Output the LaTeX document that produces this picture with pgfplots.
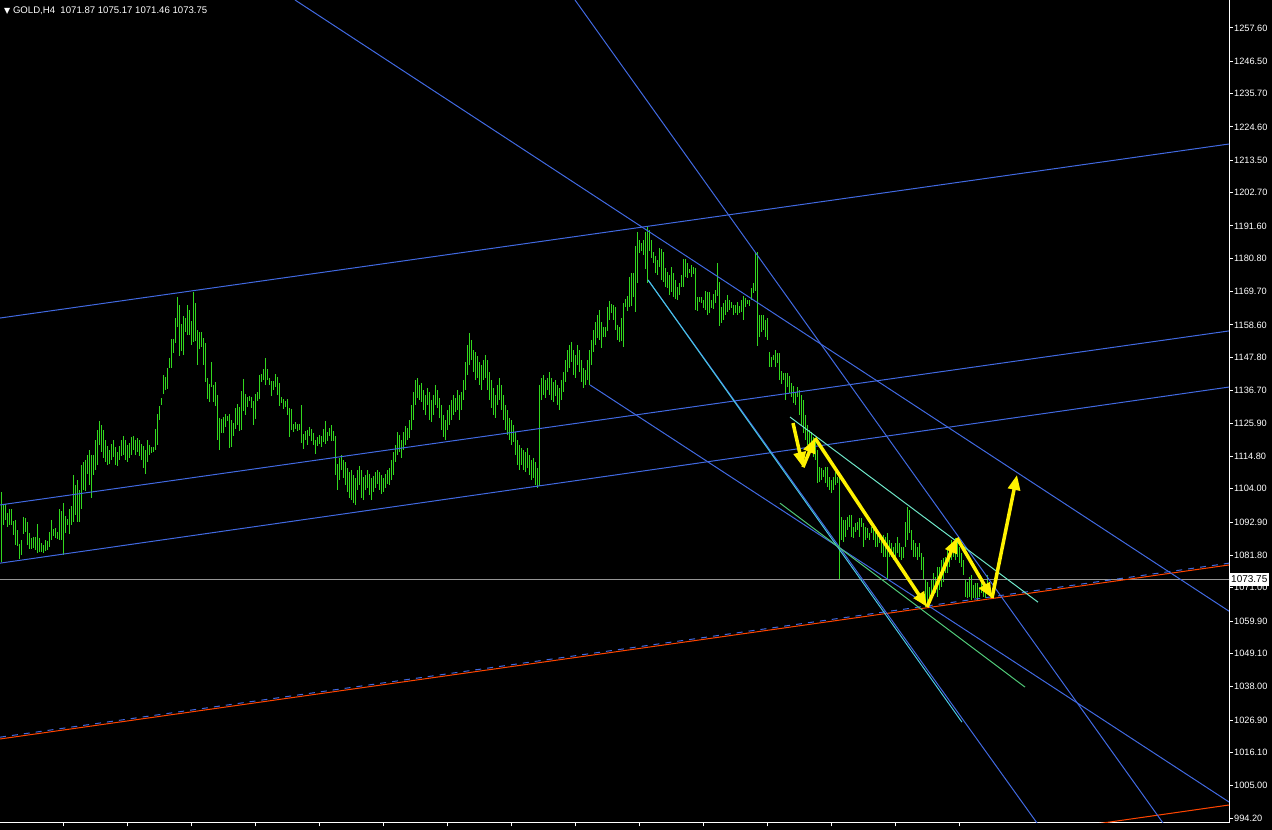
\documentclass[border=0pt]{standalone}
\usepackage{fontspec}
\setmainfont{Liberation Sans}
\newfontfamily\dv{DejaVu Sans}
\usepackage{pgfplots}
\usepackage{pgfplotstable}
\pgfplotsset{compat=1.18}
\usetikzlibrary{arrows.meta}

\definecolor{mtgreen}{RGB}{50,215,30}
\definecolor{mtblue}{RGB}{65,105,225}
\definecolor{mtred}{RGB}{255,69,0}
\definecolor{mtcyan}{RGB}{72,200,225}
\definecolor{mtaqua}{RGB}{110,230,200}
\definecolor{mtlgreen}{RGB}{80,200,120}
\definecolor{mtgray}{RGB}{150,150,150}

% H4 bars: x position, high, low
\pgfplotstableread[row sep=\\]{
x h l\\
1 1102.9 1079.6\\ 3 1098.6 1091.9\\ 5 1098.9 1093.6\\ 7 1095.9 1091.2\\ 9 1097.2 1091.9\\
11 1097.2 1091.9\\ 13 1093.2 1088.6\\ 15 1093.6 1085.2\\ 17 1090.2 1084.9\\ 19 1085.6 1080.6\\
21 1086.9 1081.9\\ 23 1094.6 1088.9\\ 25 1094.2 1089.6\\ 27 1092.9 1085.2\\ 29 1089.2 1083.9\\
31 1087.6 1083.9\\ 33 1087.9 1084.2\\ 35 1087.9 1083.6\\ 37 1092.2 1082.6\\ 39 1087.6 1082.9\\
41 1085.9 1082.9\\ 43 1085.2 1082.6\\ 45 1086.9 1083.2\\ 47 1086.6 1083.6\\ 49 1089.6 1084.6\\
51 1093.6 1086.9\\ 53 1090.6 1088.2\\ 55 1090.9 1087.6\\ 57 1089.6 1087.2\\ 59 1097.2 1086.9\\
61 1096.6 1086.9\\ 63 1099.2 1081.9\\ 65 1094.9 1089.2\\ 67 1093.9 1091.9\\ 69 1097.2 1088.9\\
71 1098.2 1091.9\\ 73 1108.6 1092.9\\ 75 1105.2 1095.2\\ 77 1106.9 1092.9\\ 79 1103.6 1092.9\\
81 1111.9 1097.2\\ 83 1112.9 1103.6\\ 85 1113.6 1103.2\\ 87 1115.2 1108.9\\ 89 1116.9 1105.2\\
91 1115.2 1100.9\\ 93 1115.2 1108.6\\ 95 1120.2 1110.2\\ 97 1123.6 1111.9\\ 99 1126.6 1118.6\\
101 1125.2 1116.2\\ 103 1123.6 1114.2\\ 105 1120.2 1112.9\\ 107 1118.2 1111.9\\ 109 1116.9 1112.2\\
111 1118.9 1113.6\\ 113 1120.2 1114.6\\ 115 1117.9 1111.9\\ 117 1116.2 1111.6\\ 119 1118.2 1113.6\\
121 1120.2 1114.9\\ 123 1121.6 1115.2\\ 125 1120.2 1113.6\\ 127 1118.6 1112.9\\ 129 1119.2 1114.2\\
131 1121.2 1115.2\\ 133 1121.6 1116.9\\ 135 1120.2 1115.2\\ 137 1120.9 1116.2\\ 139 1120.2 1114.9\\
141 1118.9 1113.6\\ 143 1118.2 1110.9\\ 145 1116.9 1108.9\\ 147 1120.2 1112.9\\ 149 1118.6 1115.2\\
151 1117.9 1115.9\\ 153 1117.9 1116.2\\ 155 1123.9 1116.9\\ 157 1128.9 1118.6\\ 159 1131.6 1126.9\\
161 1134.2 1131.9\\ 163 1141.9 1135.6\\ 165 1141.2 1136.9\\ 167 1144.2 1137.2\\ 169 1147.6 1144.2\\
171 1153.9 1144.2\\ 173 1153.9 1149.2\\ 175 1160.9 1152.6\\ 177 1167.9 1157.9\\ 179 1165.2 1148.2\\
181 1158.9 1149.9\\ 183 1161.6 1148.6\\ 185 1160.9 1156.2\\ 187 1165.2 1155.2\\ 189 1163.6 1155.2\\
191 1159.9 1151.9\\ 193 1169.6 1152.9\\ 195 1165.9 1153.2\\ 197 1156.9 1145.2\\ 199 1156.2 1150.6\\
201 1156.2 1151.2\\ 203 1154.2 1145.2\\ 205 1152.6 1139.6\\ 207 1140.9 1133.9\\ 209 1138.9 1132.9\\
211 1146.2 1137.9\\ 213 1138.6 1132.9\\ 215 1139.6 1131.6\\ 217 1135.2 1120.2\\ 219 1127.6 1116.9\\
221 1127.2 1122.6\\ 223 1127.9 1122.6\\ 225 1128.9 1124.6\\ 227 1128.2 1126.6\\ 229 1128.9 1117.6\\
231 1126.9 1117.9\\ 233 1125.9 1121.6\\ 235 1130.9 1123.9\\ 237 1132.2 1125.2\\ 239 1131.2 1123.2\\
241 1136.6 1123.6\\ 243 1140.6 1129.9\\ 245 1135.6 1128.6\\ 247 1134.6 1131.2\\ 249 1134.9 1133.2\\
251 1134.6 1130.9\\ 253 1133.2 1125.2\\ 255 1135.6 1127.2\\ 257 1136.2 1133.2\\ 259 1141.9 1133.9\\
261 1142.2 1139.6\\ 263 1143.9 1140.2\\ 265 1147.6 1138.6\\ 267 1143.9 1140.2\\ 269 1140.9 1138.6\\
271 1139.9 1134.9\\ 273 1139.9 1136.9\\ 275 1142.2 1137.9\\ 277 1141.2 1135.2\\ 279 1139.2 1131.6\\
281 1134.6 1132.6\\ 283 1133.9 1130.6\\ 285 1133.2 1131.2\\ 287 1133.9 1128.6\\ 289 1130.9 1121.2\\
291 1130.6 1123.6\\ 293 1125.6 1122.9\\ 295 1126.2 1123.9\\ 297 1125.6 1123.2\\ 299 1125.6 1123.6\\
301 1131.9 1119.2\\ 303 1122.2 1117.2\\ 305 1123.2 1120.2\\ 307 1123.6 1118.6\\ 309 1124.6 1121.6\\
311 1123.9 1119.9\\ 313 1122.6 1118.6\\ 315 1120.2 1115.6\\ 317 1121.2 1118.2\\ 319 1121.9 1118.9\\
321 1121.6 1117.9\\ 323 1123.9 1119.6\\ 325 1126.6 1118.9\\ 327 1122.9 1119.9\\ 329 1124.2 1121.6\\
331 1125.2 1119.9\\ 333 1123.2 1119.9\\ 335 1121.6 1108.6\\ 337 1112.2 1103.6\\ 339 1114.2 1106.9\\
341 1115.2 1110.2\\ 343 1113.6 1107.6\\ 345 1112.9 1105.2\\ 347 1110.9 1102.9\\ 349 1109.6 1100.9\\
351 1110.2 1100.2\\ 353 1108.6 1099.2\\ 355 1107.6 1098.6\\ 357 1110.2 1103.6\\ 359 1111.6 1105.2\\
361 1110.2 1100.9\\ 363 1107.9 1100.2\\ 365 1108.6 1103.6\\ 367 1110.2 1104.2\\ 369 1108.9 1101.9\\
371 1107.6 1100.2\\ 373 1108.2 1102.9\\ 375 1109.6 1104.2\\ 377 1110.2 1105.6\\ 379 1109.6 1103.6\\
381 1108.6 1102.2\\ 383 1107.6 1102.9\\ 385 1108.9 1104.2\\ 387 1110.2 1105.6\\ 389 1110.9 1105.2\\
391 1113.6 1106.9\\ 393 1116.2 1108.6\\ 395 1118.6 1112.9\\ 397 1122.9 1115.2\\ 399 1121.9 1116.2\\
401 1120.2 1114.2\\ 403 1122.9 1116.9\\ 405 1124.9 1118.6\\ 407 1124.2 1120.2\\ 409 1126.9 1120.9\\
411 1131.9 1123.6\\ 413 1136.2 1126.9\\ 415 1140.2 1131.9\\ 417 1140.9 1134.2\\ 419 1138.6 1133.6\\
421 1139.2 1132.9\\ 423 1136.9 1130.2\\ 425 1135.2 1128.6\\ 427 1137.6 1131.9\\ 429 1136.2 1126.9\\
431 1133.6 1126.2\\ 433 1135.2 1128.6\\ 435 1138.6 1131.9\\ 437 1136.9 1130.9\\ 439 1134.2 1127.6\\
441 1131.9 1123.6\\ 443 1128.6 1121.2\\ 445 1126.9 1120.2\\ 447 1130.2 1123.6\\ 449 1131.9 1125.2\\
451 1133.6 1126.9\\ 453 1135.2 1128.6\\ 455 1134.2 1129.6\\ 457 1136.9 1130.2\\ 459 1135.2 1126.9\\
461 1136.2 1130.2\\ 463 1140.2 1133.6\\ 465 1146.2 1136.9\\ 467 1151.9 1141.9\\ 469 1155.9 1145.2\\
471 1153.6 1146.9\\ 473 1150.2 1142.9\\ 475 1149.6 1140.2\\ 477 1148.2 1140.9\\ 479 1146.2 1138.6\\
481 1145.2 1136.9\\ 483 1146.9 1140.2\\ 485 1148.6 1140.9\\ 487 1146.9 1136.9\\ 489 1142.9 1133.6\\
491 1140.2 1130.9\\ 493 1137.6 1128.6\\ 495 1135.2 1127.6\\ 497 1138.6 1131.9\\ 499 1140.9 1133.6\\
501 1138.6 1130.2\\ 503 1135.2 1126.9\\ 505 1131.9 1123.6\\ 507 1130.2 1121.9\\ 509 1127.6 1120.2\\
511 1126.9 1118.6\\ 513 1125.2 1119.6\\ 515 1122.9 1115.2\\ 517 1120.2 1111.9\\ 519 1118.6 1110.2\\
521 1117.6 1111.9\\ 523 1116.9 1110.2\\ 525 1116.2 1109.6\\ 527 1117.6 1110.9\\ 529 1115.2 1108.6\\
531 1113.6 1106.9\\ 533 1114.2 1107.6\\ 535 1112.9 1105.2\\ 537 1110.9 1104.2\\ 539 1138.6 1104.9\\
541 1140.9 1133.6\\ 543 1141.9 1135.2\\ 545 1140.2 1134.2\\ 547 1140.9 1136.9\\ 549 1142.9 1135.2\\
551 1140.9 1133.6\\ 553 1139.6 1132.9\\ 555 1140.2 1134.9\\ 557 1138.6 1131.9\\ 559 1137.6 1130.2\\
561 1140.2 1133.6\\ 563 1142.9 1136.2\\ 565 1146.9 1139.6\\ 567 1150.2 1142.9\\ 569 1151.9 1144.2\\
571 1152.9 1146.2\\ 573 1150.2 1141.9\\ 575 1148.6 1140.9\\ 577 1151.9 1145.2\\ 579 1150.2 1142.9\\
581 1146.9 1139.6\\ 583 1144.2 1137.6\\ 585 1143.6 1138.6\\ 587 1146.9 1140.2\\ 589 1150.2 1138.6\\
591 1153.6 1145.2\\ 593 1156.9 1149.6\\ 595 1159.6 1151.9\\ 597 1161.9 1154.2\\ 599 1163.6 1153.6\\
601 1159.6 1150.9\\ 603 1157.9 1154.6\\ 605 1157.9 1154.6\\ 607 1164.6 1156.6\\ 609 1166.6 1160.2\\
611 1165.6 1162.6\\ 613 1165.2 1160.2\\ 615 1164.6 1156.9\\ 617 1158.6 1153.6\\ 619 1157.9 1152.9\\
621 1160.9 1153.2\\ 623 1165.9 1151.2\\ 625 1167.2 1164.6\\ 627 1168.2 1163.2\\ 629 1174.6 1164.6\\
631 1175.9 1164.9\\ 633 1175.9 1167.9\\ 635 1184.9 1162.9\\ 637 1189.6 1172.6\\ 639 1186.9 1182.6\\
641 1185.9 1183.2\\ 643 1186.9 1181.9\\ 645 1189.6 1177.2\\ 647 1191.2 1172.6\\ 649 1190.2 1183.2\\
651 1186.9 1180.9\\ 653 1182.9 1179.2\\ 655 1181.6 1175.9\\ 657 1180.2 1175.2\\ 659 1184.2 1177.9\\
661 1183.9 1173.6\\ 663 1182.9 1172.9\\ 665 1177.6 1171.2\\ 667 1176.2 1170.9\\ 669 1175.2 1168.6\\
671 1177.9 1169.6\\ 673 1175.9 1167.9\\ 675 1173.6 1167.2\\ 677 1171.2 1166.9\\ 679 1172.6 1168.6\\
681 1175.2 1171.2\\ 683 1180.6 1171.2\\ 685 1180.6 1174.6\\ 687 1179.2 1174.2\\ 689 1177.2 1175.9\\
691 1178.6 1174.6\\ 693 1177.9 1175.6\\ 695 1177.6 1163.6\\ 697 1167.9 1163.2\\ 699 1167.9 1166.2\\
701 1167.9 1165.9\\ 703 1166.9 1164.2\\ 705 1169.9 1163.6\\ 707 1169.6 1161.9\\ 709 1169.6 1162.6\\
711 1166.9 1164.2\\ 713 1168.9 1163.9\\ 715 1170.2 1165.9\\ 717 1179.2 1168.2\\ 719 1172.9 1158.2\\
721 1164.6 1159.2\\ 723 1165.9 1160.2\\ 725 1166.9 1161.9\\ 727 1168.6 1162.9\\ 729 1166.9 1163.6\\
731 1166.2 1164.2\\ 733 1165.2 1161.9\\ 735 1165.2 1162.6\\ 737 1166.2 1161.9\\ 739 1164.9 1162.6\\
741 1166.9 1162.9\\ 743 1168.2 1160.2\\ 745 1167.6 1164.6\\ 747 1166.9 1165.6\\ 749 1166.9 1164.9\\
751 1170.9 1166.9\\ 753 1172.6 1169.2\\ 755 1182.6 1169.9\\ 757 1182.9 1151.6\\ 759 1161.9 1154.6\\
761 1161.9 1156.2\\ 763 1161.9 1156.9\\ 765 1160.2 1154.6\\ 767 1160.9 1153.6\\ 769 1149.6 1144.6\\
771 1147.9 1144.6\\ 773 1148.6 1146.9\\ 775 1150.2 1144.6\\ 777 1149.2 1145.9\\ 779 1149.2 1140.2\\
781 1143.2 1138.9\\ 783 1142.6 1140.2\\ 785 1142.6 1133.6\\ 787 1142.6 1137.9\\ 789 1141.6 1135.9\\
791 1139.2 1134.6\\ 793 1138.2 1132.6\\ 795 1135.9 1131.9\\ 797 1137.9 1134.6\\ 799 1136.9 1128.6\\
801 1135.2 1125.2\\ 803 1133.6 1122.6\\ 805 1128.6 1120.2\\ 807 1125.2 1118.6\\ 809 1123.6 1116.9\\
811 1122.9 1116.9\\ 813 1121.2 1114.6\\ 815 1120.2 1113.6\\ 817 1116.9 1105.9\\ 819 1111.2 1106.2\\
821 1110.9 1106.9\\ 823 1110.2 1107.9\\ 825 1111.2 1105.9\\ 827 1111.2 1104.6\\ 829 1107.9 1103.6\\
831 1106.9 1102.6\\ 833 1107.9 1103.6\\ 835 1109.6 1105.2\\ 837 1107.9 1105.9\\ 839 1107.9 1073.6\\
841 1094.6 1086.9\\ 843 1093.6 1086.2\\ 845 1093.6 1087.9\\ 847 1094.6 1090.2\\ 849 1095.2 1091.2\\
851 1095.2 1087.9\\ 853 1091.2 1087.6\\ 855 1092.6 1089.6\\ 857 1092.9 1090.2\\ 859 1094.2 1087.9\\
861 1094.2 1091.2\\ 863 1092.6 1084.6\\ 865 1091.2 1086.9\\ 867 1090.9 1087.6\\ 869 1089.2 1086.9\\
871 1091.2 1089.2\\ 873 1091.9 1086.9\\ 875 1090.2 1084.6\\ 877 1088.6 1084.6\\ 879 1089.2 1085.9\\
881 1087.9 1082.6\\ 883 1088.6 1081.2\\ 885 1087.9 1081.2\\ 887 1089.2 1073.6\\ 889 1086.9 1081.2\\
891 1085.9 1081.2\\ 893 1084.6 1080.2\\ 895 1085.9 1080.2\\ 897 1087.9 1082.6\\ 899 1085.9 1081.2\\
901 1084.6 1080.2\\ 903 1084.6 1080.9\\ 905 1092.9 1084.6\\ 907 1097.9 1086.9\\ 909 1096.9 1089.2\\
911 1090.2 1083.6\\ 913 1086.9 1081.2\\ 915 1085.9 1081.2\\ 917 1084.6 1080.2\\ 919 1085.9 1081.2\\
921 1082.6 1076.9\\ 923 1081.2 1073.6\\ 925 1073.6 1064.6\\ 927 1072.9 1064.2\\ 929 1071.2 1066.9\\
931 1073.6 1066.9\\ 933 1075.9 1069.2\\ 935 1074.6 1069.2\\ 937 1077.9 1067.9\\ 939 1077.9 1070.2\\
941 1080.2 1071.2\\ 943 1080.9 1072.9\\ 945 1081.2 1075.9\\ 947 1084.6 1075.9\\ 949 1085.2 1077.9\\
951 1086.9 1080.2\\ 953 1085.9 1081.2\\ 955 1087.6 1080.2\\ 957 1087.6 1081.2\\ 959 1084.6 1079.2\\
961 1082.6 1077.9\\ 963 1080.2 1075.2\\ 965 1073.6 1067.9\\ 967 1072.9 1067.6\\ 969 1074.6 1067.9\\
971 1075.2 1066.9\\ 973 1071.9 1067.6\\ 975 1072.6 1067.6\\ 977 1072.6 1066.9\\ 979 1071.2 1067.9\\
981 1072.6 1069.2\\ 983 1071.2 1067.9\\ 985 1070.2 1067.6\\ 987 1075.2 1071.5\\
}\bars

\begin{document}
\begin{tikzpicture}[x=1pt,y=1pt]
\fill[black] (0,0) rectangle (1272,830);
\useasboundingbox (0,0) rectangle (1272,830);
\begin{axis}[
  at={(0pt,7pt)}, anchor=south west,
  width=1229pt, height=823pt, scale only axis,
  xmin=0, xmax=1229, ymin=992.6, ymax=1266.9,
  clip mode=individual,
  axis x line*=bottom, axis y line*=right,
  axis line style={white, line width=1pt},
  tick align=outside,
  major tick length=3.5pt,
  tick style={white, line width=1pt},
  xtick={63,127,...,959}, xticklabels={},
  ytick={994.2,1005,1016.1,1026.9,1038,1049.1,1059.9,1071,1081.8,1092.9,1104,1114.8,1125.9,1136.7,1147.8,1158.6,1169.7,1180.8,1191.6,1202.7,1213.5,1224.6,1235.7,1246.5,1257.6},
  yticklabels={994.20,1005.00,1016.10,1026.90,1038.00,1049.10,1059.90,1071.00,1081.80,1092.90,1104.00,1114.80,1125.90,1136.70,1147.80,1158.60,1169.70,1180.80,1191.60,1202.70,1213.50,1224.60,1235.70,1246.50,1257.60},
  yticklabel style={white, font=\fontsize{9.2}{10}\selectfont, inner sep=1.5pt},
]
% price bars (high-low)
\addplot[draw=none, mark=none, forget plot,
  error bars/.cd, y dir=minus, y explicit, error mark=none,
  error bar style={draw=mtgreen, line width=1pt}]
  table[x=x, y=h, y error minus expr=\thisrow{h}-\thisrow{l}] {\bars};

% current price line
\addplot[mtgray, line width=1pt] coordinates {(0,1073.75)(1229,1073.75)};

% rising channel
\addplot[mtblue, line width=1pt] coordinates {(0,1160.9)(1229,1218.9)};
\addplot[mtblue, line width=1pt] coordinates {(0,1098.6)(1229,1156.6)};
\addplot[mtblue, line width=1pt] coordinates {(0,1079.2)(1229,1137.9)};
\addplot[mtred, line width=1pt] coordinates {(0,1020.6)(1229,1078.6)};
\addplot[mtblue, line width=1pt, dash pattern=on 6pt off 6pt] coordinates {(0,1021.2)(1229,1079.2)};
\addplot[mtred, line width=1pt] coordinates {(1000,987.7)(1229,998.6)};

% falling lines
\addplot[mtblue, line width=1pt] coordinates {(295,1266.9)(1229,1063.2)};
\addplot[mtblue, line width=1pt] coordinates {(575,1266.9)(1163,992.6)};
\addplot[mtblue, line width=1pt] coordinates {(590,1138.6)(1229,999.6)};
\addplot[mtblue, line width=1pt] coordinates {(648,1173.6)(1037,992.6)};
\addplot[mtcyan, line width=1pt] coordinates {(648,1173.6)(962,1026.2)};
\addplot[mtaqua, line width=1pt] coordinates {(790,1127.9)(1038,1066.2)};
\addplot[mtlgreen, line width=1pt] coordinates {(780,1099.2)(1025,1037.9)};

% yellow zigzag arrows
\addplot[yellow, line width=3.5pt, -{Triangle[length=15pt,width=12pt]}] coordinates {(793,1125.9)(803,1111.2)};
\addplot[yellow, line width=3.5pt, -{Triangle[length=15pt,width=12pt]}] coordinates {(803,1111.2)(815,1120.9)};
\addplot[yellow, line width=3.5pt, -{Triangle[length=15pt,width=12pt]}] coordinates {(815,1120.9)(927,1064.6)};
\addplot[yellow, line width=3.5pt, -{Triangle[length=15pt,width=12pt]}] coordinates {(927,1064.6)(957,1087.6)};
\addplot[yellow, line width=3.5pt, -{Triangle[length=15pt,width=12pt]}] coordinates {(957,1087.6)(992,1067.6)};
\addplot[yellow, line width=3.5pt, -{Triangle[length=15pt,width=12pt]}] coordinates {(992,1067.6)(1017,1108.6)};

% top frame line and price label
\draw[white, line width=1pt] (rel axis cs:0,1) -- (rel axis cs:1,1);
\node[anchor=west, fill=white, text=black, inner xsep=1.5pt, inner ysep=2.5pt,
  font=\fontsize{10}{11}\selectfont] at (axis cs:1229.5,1073.75) {1073.75};
\end{axis}
\node[anchor=base west, text=white, font=\fontsize{9.6}{10}\selectfont, inner sep=0pt]
  at (4,816) {{\dv\fontsize{8}{8}\selectfont ▼}\ GOLD,H4\ \ 1071.87 1075.17 1071.46 1073.75};
\end{tikzpicture}
\end{document}
